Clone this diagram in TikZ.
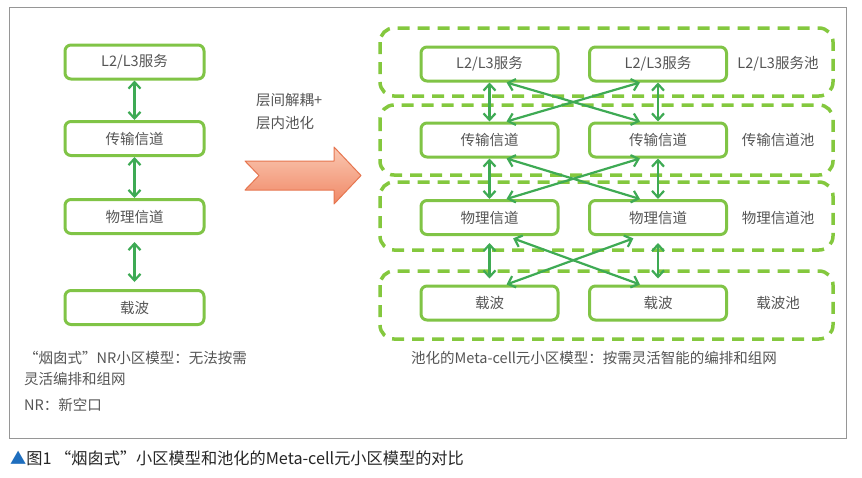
\documentclass[tikz,border=0pt]{standalone}
\usepackage{fontspec}
\setmainfont{Noto Sans CJK SC}
\usepackage{xcolor}
\usepackage{tikz}
\usetikzlibrary{arrows.meta, calc}
\definecolor{CellGreen}{RGB}{128, 196, 70}
\definecolor{LinkGreen}{RGB}{62, 170, 84}
\definecolor{PoolGreen}{RGB}{132, 200, 62}
\definecolor{TextGray}{RGB}{85, 85, 85}
\definecolor{FrameGray}{RGB}{150, 150, 150}
\definecolor{ArrowTop}{RGB}{250, 200, 178}
\definecolor{ArrowBot}{RGB}{240, 136, 102}
\definecolor{ArrowEdge}{RGB}{230, 118, 80}
\definecolor{CapBlue}{RGB}{30, 110, 190}

\begin{document}
\begin{tikzpicture}[x=1pt,y=-1pt,
  cellbox/.style={draw=CellGreen, line width=3pt, rounded corners=6pt, fill=white,
    minimum width=137pt, minimum height=34pt, inner sep=0pt,
    font=\fontsize{14.5}{16}\selectfont, text=TextGray},
  notetext/.style={inner sep=0pt, font=\fontsize{14.5}{16}\selectfont, text=TextGray},
  pool/.style={draw=PoolGreen, line width=3.5pt, dash pattern=on 12pt off 8pt, rounded corners=14pt},
  link/.style={draw=LinkGreen, line width=2.2pt,
    {Straight Barb[length=6.5pt,width=12pt]}-{Straight Barb[length=6.5pt,width=12pt]}}]
  \path[use as bounding box] (0,0) rectangle (862,477);
  \fill[white] (0,0) rectangle (862,477);
  \draw[FrameGray, line width=1pt] (9,7) rectangle (846,438);

  \foreach \i/\t/\y in {1/{L2/L3服务}/62, 2/传输信道/138.5, 3/物理信道/216.5, 4/载波/307.5}{
    \node[cellbox, minimum width=139pt] (s\i) at (134.5,\y) {\t};
  }
  \draw[link] (s1) -- (s2);
  \draw[link] (s2) -- (s3);
  \draw[link, shorten <=7pt, shorten >=7pt] (s3) -- (s4);

  \node[notetext, anchor=west] (decouple) at (256,100) {层间解耦+};
  \node[notetext, anchor=west] (inpool) at (256,123) {层内池化};
  \shade[top color=ArrowTop, bottom color=ArrowBot, draw=ArrowEdge, line width=1pt, line join=round]
    (245,161) -- (334,161) -- (334,147) -- (361,175.5) -- (334,204) -- (334,190)
    -- (245,190) -- (259,175.5) -- cycle;

  \foreach \t/\b in {28/96, 105/175, 182/250, 271/339}{
    \draw[pool] (380,\t) rectangle (833,\b);
  }
  \foreach \i/\t/\y/\p in {1/{L2/L3服务}/64/{L2/L3服务池}, 2/传输信道/140/传输信道池,
                            3/物理信道/217.5/物理信道池, 4/载波/303/载波池}{
    \node[cellbox] (pa\i) at (489.5,\y) {\t};
    \node[cellbox] (pb\i) at (658,\y) {\t};
    \node[notetext] (pl\i) at (778,\y) {\p};
  }
  \foreach \i/\j in {1/2, 2/3}{
    \draw[link] (pa\i) -- (pa\j);
    \draw[link] (pb\i) -- (pb\j);
    \draw[link] ([xshift=17pt]pa\i.south) -- ([xshift=-18pt]pb\j.north);
    \draw[link] ([xshift=-18pt]pb\i.south) -- ([xshift=17pt]pa\j.north);
  }
  \draw[link, shorten <=7pt, shorten >=6pt] (pa3) -- (pa4);
  \draw[link, shorten <=7pt, shorten >=6pt] (pb3) -- (pb4);
  \draw[link, shorten <=7pt] ([xshift=17pt]pa3.south) -- ([xshift=-18pt]pb4.north);
  \draw[link, shorten <=7pt] ([xshift=-18pt]pb3.south) -- ([xshift=17pt]pa4.north);

  \node[notetext, anchor=west, align=left, font=\fontsize{14.5}{21}\selectfont] (chimney) at (24,368.5)
    {“烟囱式”NR小区模型：无法按需\\灵活编排和组网};
  \node[notetext, anchor=west] (nrnote) at (24,405) {NR：新空口};
  \node[notetext, anchor=west] (metanote) at (411,358) {池化的Meta-cell元小区模型：按需灵活智能的编排和组网};

  \node[anchor=west, inner sep=0pt, font=\fontsize{16.2}{18}\selectfont, text=black!85] (caption) at (10,458)
    {\textcolor{CapBlue}{▲}图1 “烟囱式”小区模型和池化的Meta-cell元小区模型的对比};
\end{tikzpicture}
\end{document}
